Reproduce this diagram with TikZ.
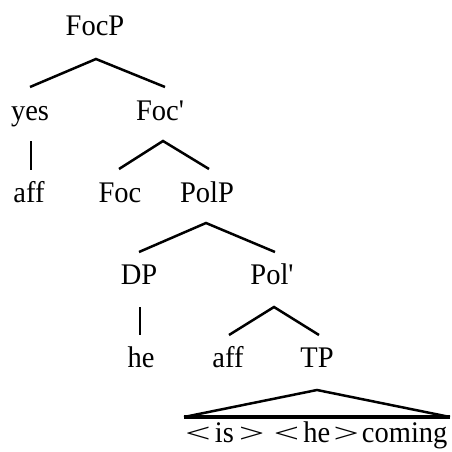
\documentclass[tikz,border=0pt]{standalone}
\usepackage{fontspec}
\usepackage{graphicx}
\setmainfont{Liberation Serif}[Ligatures=TeXOff]
\newcommand{\Tx}[1]{\scalebox{1}[1.05]{#1}}
\newcommand{\Lt}{\scalebox{1.6}[0.9]{<}}
\newcommand{\Gt}{\scalebox{1.6}[0.9]{>}}
\begin{document}
\begin{tikzpicture}[x=1pt,y=-1pt,
  lbl/.style={anchor=base, inner sep=0pt, font=\fontsize{28.5}{32}\selectfont},
  br/.style={line width=2.5pt},
  base/.style={line width=3.3pt}]
\useasboundingbox (0,0) rectangle (451,452);
% labels
\node[lbl] (FocP) at (95,36) {\Tx{FocP}};
\node[lbl] (yes) at (30,120) {\Tx{yes}};
\node[lbl] (Focb) at (160,120) {\Tx{Foc'}};
\node[lbl] (aff1) at (29,202) {\Tx{aff}};
\node[lbl] (Foc) at (120,202) {\Tx{Foc}};
\node[lbl] (PolP) at (207,202) {\Tx{PolP}};
\node[lbl] (DP) at (139,284) {\Tx{DP}};
\node[lbl] (Polb) at (272,284) {\Tx{Pol'}};
\node[lbl] (he) at (141,367) {\Tx{he}};
\node[lbl] (aff2) at (228,367) {\Tx{aff}};
\node[lbl] (TP) at (317,367) {\Tx{TP}};
\node[lbl, anchor=base west] (str) at (185,442)
  {\Tx{\Lt\hspace{4pt}is\hspace{5pt}\Gt\hspace{9pt}\Lt\hspace{4pt}he\hspace{3pt}\Gt\hspace{3pt}coming}};
% branch points
\coordinate (FocP-b) at (96,59);
\coordinate (yes-t) at (30,87);
\coordinate (Focb-t) at (165,87);
\coordinate (yes-b) at (31,141);
\coordinate (aff1-t) at (31,170);
\coordinate (Focb-b) at (163,141);
\coordinate (Foc-t) at (119,169);
\coordinate (PolP-t) at (209,169);
\coordinate (PolP-b) at (206,223);
\coordinate (DP-t) at (139,252);
\coordinate (Polb-t) at (275,252);
\coordinate (DP-b) at (140,307);
\coordinate (he-t) at (140,335);
\coordinate (Polb-b) at (274,307);
\coordinate (aff2-t) at (229,335);
\coordinate (TP-t) at (319,335);
\coordinate (TP-b) at (317,390);
\coordinate (tri-l) at (184,417);
\coordinate (tri-r) at (450,417);
% branches
\draw[br] (yes-t) -- (FocP-b) -- (Focb-t);
\draw[br] (yes-b) -- (aff1-t);
\draw[br] (Foc-t) -- (Focb-b) -- (PolP-t);
\draw[br] (DP-t) -- (PolP-b) -- (Polb-t);
\draw[br] (DP-b) -- (he-t);
\draw[br] (aff2-t) -- (Polb-b) -- (TP-t);
\draw[br] (tri-l) -- (TP-b) -- (tri-r);
\draw[base] (tri-l) -- (tri-r);
\end{tikzpicture}
\end{document}
